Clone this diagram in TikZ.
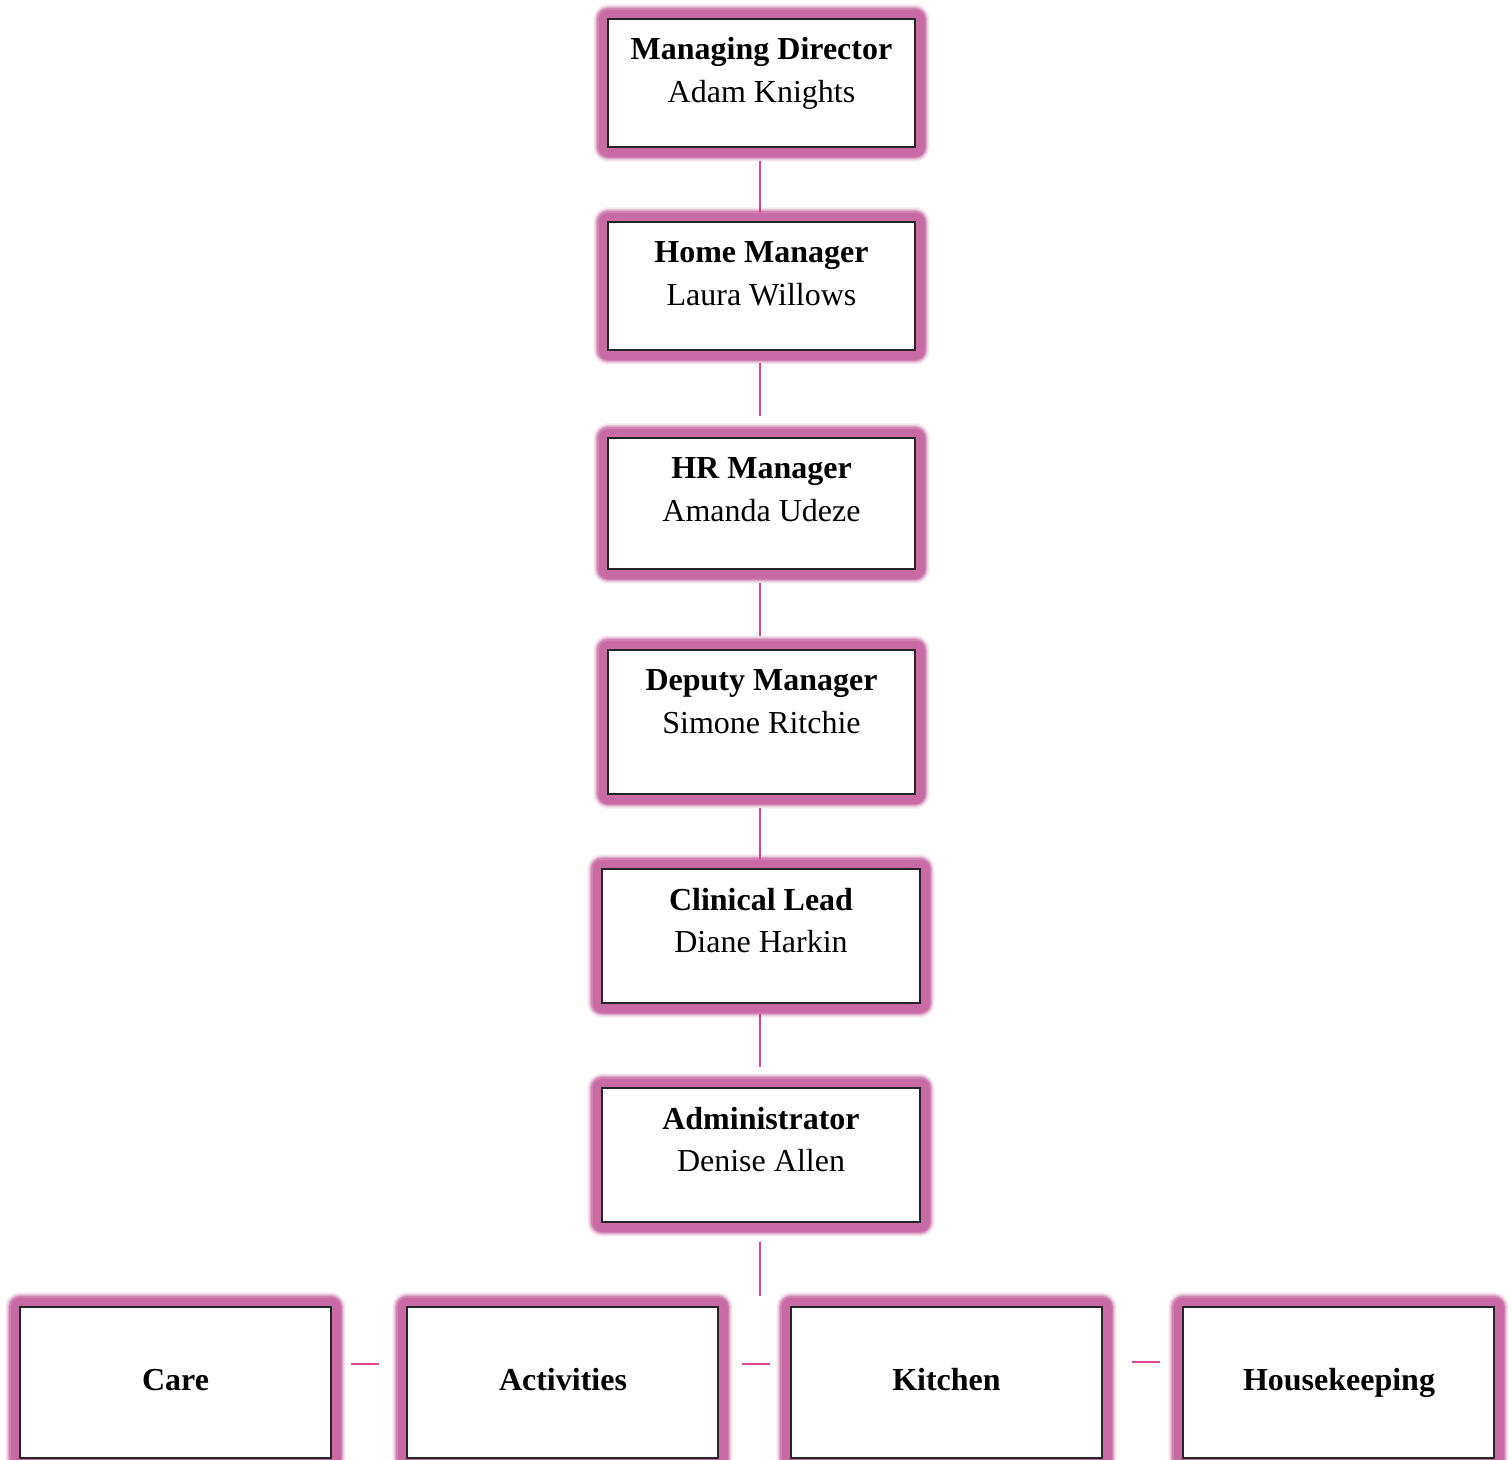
\documentclass[tikz,border=0pt]{standalone}
\usepackage{fontspec}
\setmainfont{Liberation Serif}
\definecolor{glowc}{RGB}{200,106,164}
\definecolor{connc}{RGB}{224,68,152}
\tikzset{
  orgbox/.style={draw=black!85, line width=1.1pt, fill=white, inner sep=0pt,
    preaction={draw=glowc, draw opacity=0.08, line width=30pt, line join=round},
    preaction={draw=glowc, draw opacity=0.12, line width=28pt, line join=round},
    preaction={draw=glowc, draw opacity=0.2, line width=26pt, line join=round},
    preaction={draw=glowc, draw opacity=0.35, line width=24pt, line join=round},
    preaction={draw=glowc, draw opacity=0.6, line width=22pt, line join=round},
    preaction={draw=glowc, line width=19pt, line join=round}},
  topbox/.style={orgbox, minimum width=307pt, minimum height=#1},
  widebox/.style={orgbox, minimum width=318pt, minimum height=134pt},
  lowbox/.style={orgbox, minimum width=311pt, minimum height=151pt},
  ttl/.style={anchor=base, inner sep=0pt, font=\fontsize{32}{38}\selectfont\bfseries},
  nm/.style={anchor=base, inner sep=0pt, font=\fontsize{32}{38}\selectfont},
  conn/.style={draw=connc, line width=1.8pt},
}
\begin{document}
\begin{tikzpicture}[x=1pt,y=-1pt]
\clip (0,0) rectangle (1512,1459);
\fill[white] (0,0) rectangle (1512,1459);

% boxes
\node[topbox=128pt] (md) at (761.5,83) {};
\node[topbox=128pt] (hm) at (761.5,286) {};
\node[topbox=131pt] (hr) at (761.5,503.5) {};
\node[topbox=144pt] (dm) at (761.5,722) {};
\node[widebox] (cl) at (761,936) {};
\node[widebox] (ad) at (761,1155) {};
\node[lowbox] (care) at (175.5,1382.5) {};
\node[lowbox] (act) at (562.5,1382.5) {};
\node[lowbox] (kit) at (946.5,1382.5) {};
\node[lowbox] (hk) at (1338.5,1382.5) {};

% texts
\node[ttl] (md-t) at (761.5,59) {Managing Director};
\node[nm]  (md-n) at (761.5,102) {Adam Knights};
\node[ttl] (hm-t) at (761.5,262) {Home Manager};
\node[nm]  (hm-n) at (761.5,305) {Laura Willows};
\node[ttl] (hr-t) at (761.5,478) {HR Manager};
\node[nm]  (hr-n) at (761.5,521) {Amanda Udeze};
\node[ttl] (dm-t) at (761.5,690) {Deputy Manager};
\node[nm]  (dm-n) at (761.5,733) {Simone Ritchie};
\node[ttl] (cl-t) at (761,910) {Clinical Lead};
\node[nm]  (cl-n) at (761,952) {Diane Harkin};
\node[ttl] (ad-t) at (761,1129) {Administrator};
\node[nm]  (ad-n) at (761,1171) {Denise Allen};
\node[ttl] (care-t) at (175.5,1390) {Care};
\node[ttl] (act-t) at (563,1390) {Activities};
\node[ttl] (kit-t) at (946.5,1390) {Kitchen};
\node[ttl] (hk-t) at (1339,1390) {Housekeeping};

% connectors
\draw[conn, shorten <=13pt, shorten >=8pt] ([xshift=-1.5pt]md.south) -- ([xshift=-1.5pt]hm.north);
\draw[conn, shorten <=12pt, shorten >=21pt] ([xshift=-1.5pt]hm.south) -- ([xshift=-1.5pt]hr.north);
\draw[conn, shorten <=13pt, shorten >=13pt] ([xshift=-1.5pt]hr.south) -- ([xshift=-1.5pt]dm.north);
\draw[conn, shorten <=13pt, shorten >=8pt] ([xshift=-1.5pt]dm.south) -- ([xshift=-1pt]cl.north);
\draw[conn, shorten <=10pt, shorten >=20pt] ([xshift=-1pt]cl.south) -- ([xshift=-1pt]ad.north);
\coordinate (split) at (760,1296);
\draw[conn, shorten <=19pt] ([xshift=-1pt]ad.south) -- (split);
\draw[conn, shorten <=19pt, shorten >=27pt] ([yshift=18.5pt]care.east) -- ([yshift=18.5pt]act.west);
\draw[conn, shorten <=23pt, shorten >=20pt] ([yshift=18.5pt]act.east) -- ([yshift=18.5pt]kit.west);
\draw[conn, shorten <=29pt, shorten >=22pt] ([yshift=20.5pt]kit.east) -- ([yshift=20.5pt]hk.west);
\end{tikzpicture}
\end{document}
